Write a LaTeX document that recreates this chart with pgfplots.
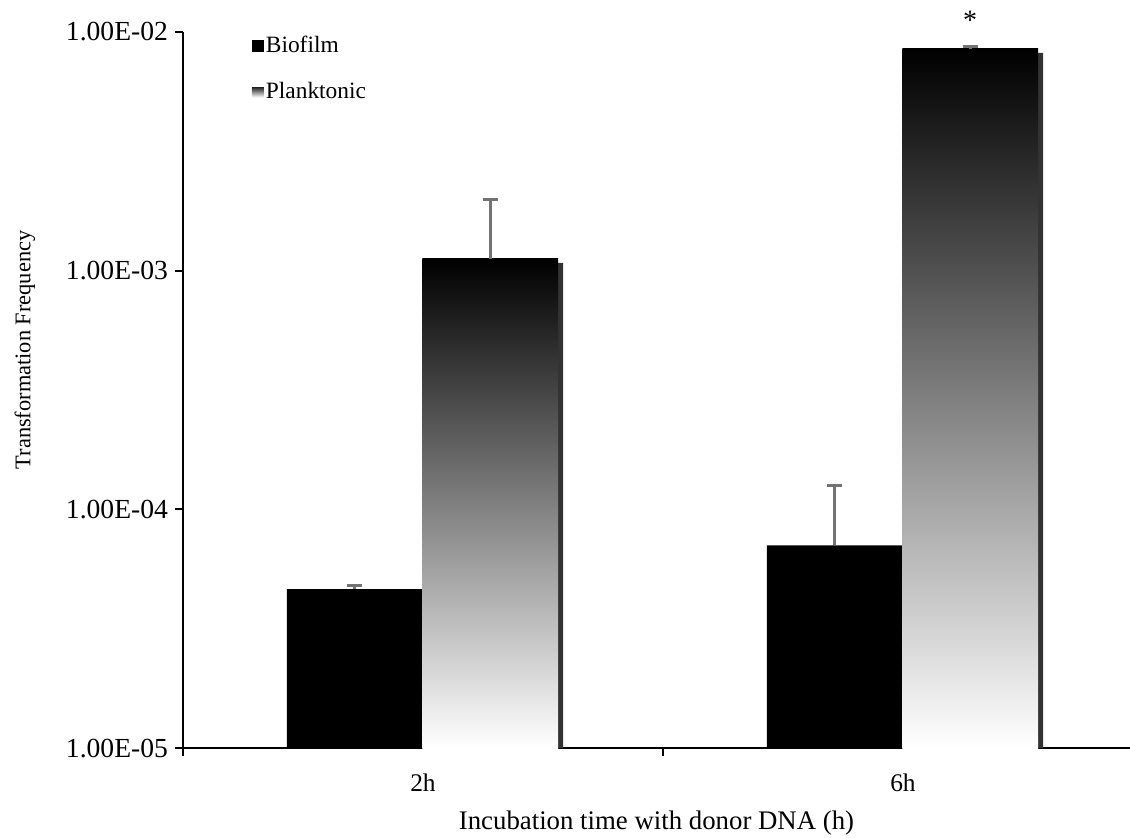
\documentclass[border=0pt]{standalone}
\usepackage{pgfplots}
\pgfplotsset{compat=1.18}
\usepackage{fontspec}
\setmainfont{Liberation Serif}
\pgfplotsset{
  errstyle/.style={error bars/.cd, y dir=plus, y explicit,
    error bar style={black!55, line width=1.4pt},
    error mark options={black!55, line width=1.4pt, mark size=3.75pt, rotate=90}},
}
\begin{document}
\begin{tikzpicture}
\begin{axis}[
  scale only axis, width=473.5pt, height=358pt,
  xmin=-0.5, xmax=1.473,
  ymode=log, ymin=1e-5, ymax=1e-2, log origin=infty,
  axis x line*=bottom, axis y line*=left,
  axis line style={line width=1pt,-},
  xtick={-0.5,0.5,1.5}, xticklabels={},
  extra x ticks={0,1}, extra x tick labels={2h,6h},
  extra x tick style={major tick length=0pt},
  ytick={1e-5,1e-4,1e-3,1e-2},
  yticklabels={1.00E-05,1.00E-04,1.00E-03,1.00E-02},
  yminorticks=false,
  tick align=outside, major tick length=4pt,
  every tick/.style={black, line width=1pt},
  xticklabel style={font=\fontsize{12.7}{15}\selectfont, yshift=-9.5pt},
  yticklabel style={font=\fontsize{13.8}{16}\selectfont},
  ylabel={Transformation Frequency},
  xlabel={Incubation time with donor DNA (h)},
  xlabel style={font=\fontsize{13.4}{15}\selectfont, yshift=1.5pt},
  ylabel style={font=\fontsize{11.2}{13}\selectfont, at={(ticklabel cs:0.556)}, yshift=8.5pt},
  ybar, bar shift=0pt, bar width=0.283,
  legend style={at={(rel axis cs:0.066,1.003)}, anchor=north west, draw=none, fill=none,
    font=\fontsize{11.7}{14}\selectfont, row sep=11.5pt, nodes={inner sep=1pt}},
  legend cell align=left,
]
\addplot[fill=black, draw=none,
  legend image code/.code={\fill[black] (0pt,-3pt) rectangle (6pt,3pt);},
  errstyle]
  coordinates {(-0.142,4.63e-5) +- (0,0.17e-5) (0.858,7.06e-5) +- (0,5.5e-5)};
\addlegendentry{Biofilm}
\addplot[forget plot, fill=black!80, draw=none, bar shift=2.5pt]
  coordinates {(0.14,1.077e-3) (1.14,8.18e-3)};
\addplot[top color=black, bottom color=white, draw=none,
  legend image code/.code={\shade[top color=black!85, bottom color=white, draw=none] (0pt,-2.5pt) rectangle (6pt,2.5pt);},
  errstyle]
  coordinates {(0.14,1.12e-3) +- (0,0.86e-3)};
\addlegendentry{Planktonic}
\addplot[forget plot, top color=black, bottom color=white, draw=none, errstyle]
  coordinates {(1.14,8.5e-3) +- (0,0.2e-3)};
\coordinate (bl) at (rel axis cs:0,0);
\coordinate (star) at (axis cs:1.14,1.12e-2);
\end{axis}
\node[font=\fontsize{14}{16}\selectfont] at (star) {*};
\pgfresetboundingbox
\path ([shift={(-91.5pt,-44.5pt)}]bl) rectangle ([shift={(473.5pt,374pt)}]bl);
\end{tikzpicture}
\end{document}
